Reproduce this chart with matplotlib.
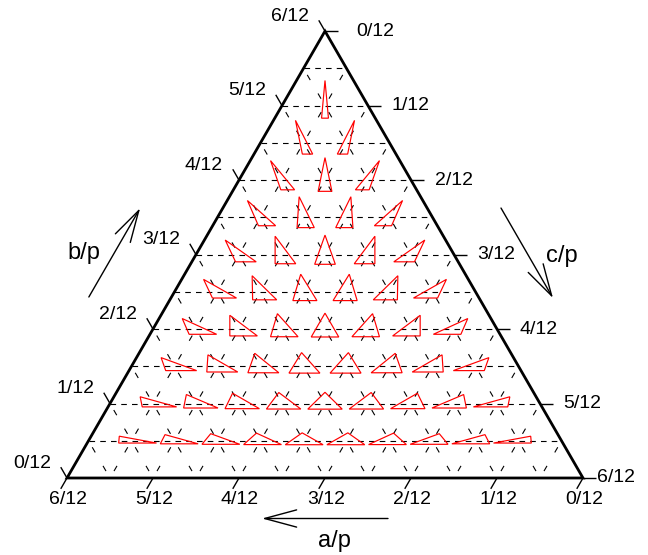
import numpy as np
import matplotlib
matplotlib.use("Agg")
import matplotlib.pyplot as plt
from matplotlib.patches import Polygon, FancyArrowPatch
from matplotlib.lines import Line2D

plt.rcParams['font.family'] = ['Liberation Sans', 'DejaVu Sans']
plt.rcParams['lines.scale_dashes'] = False

# Side lengths as fractions of the perimeter p, numerators over DENOM.
DENOM = 24
c_num = [2, 3, 4, 5, 6, 7, 8, 9, 10, 11]
a_num = [
    [11],
    [11, 10],
    [11, 10, 9],
    [11, 10, 9, 8],
    [11, 10, 9, 8, 7],
    [11, 10, 9, 8, 7, 6],
    [11, 10, 9, 8, 7, 6, 5],
    [11, 10, 9, 8, 7, 6, 5, 4],
    [11, 10, 9, 8, 7, 6, 5, 4, 3],
    [11, 10, 9, 8, 7, 6, 5, 4, 3, 2],
]
tick_num = [0, 1, 2, 3, 4, 5, 6]
tick_labels = ['0/12', '1/12', '2/12', '3/12', '4/12', '5/12', '6/12']
axis_titles = ['a/p', 'b/p', 'c/p']

SQ3 = np.sqrt(3.0)
SCALE = 0.08          # size of each glyph triangle relative to its (a, b, c)


def to_xy(a, b, c):
    """Ternary (a, b, c) with a+b+c=1 and all <= 1/2 -> plane."""
    return b + c / 2.0 - 0.25, (0.5 - c) * SQ3 / 2.0


W, H, DPI = 648, 555, 100
PX = 1032.0                 # pixels per plane unit
X0, Y0 = 67.0, 478.0        # pixel position of the lower-left corner
PT = 72.0 / DPI             # points per pixel

fig = plt.figure(figsize=(W / DPI, H / DPI), dpi=DPI)
ax = fig.add_axes([0, 0, 1, 1])
ax.set_xlim(-X0 / PX, (W - X0) / PX)
ax.set_ylim(-(H - Y0) / PX, Y0 / PX)
ax.axis('off')


def px(v):
    return v / PX


# ---- dashed grid -------------------------------------------------------
node = PX / DENOM            # node spacing in pixels
grid_lw = 0.8
h_dash = (0, (node / 4 * 0.52 * PT, node / 4 * 0.48 * PT))
s_on, s_gap0 = 6.0, 8.0
s_dash = ((node / 2 - s_gap0) * PT, (s_on * PT, (node / 2 - s_on) * PT))
for j in range(1, 12):
    v = j / DENOM
    # constant c (horizontal)
    p1 = to_xy(0.5, 0.5 - v, v)
    p2 = to_xy(0.5 - v, 0.5, v)
    ax.add_line(Line2D([p1[0], p2[0]], [p1[1], p2[1]], color='black',
                       lw=grid_lw, linestyle=h_dash, zorder=1))
    # constant a
    p1 = to_xy(v, 0.5 - v, 0.5)
    p2 = to_xy(v, 0.5, 0.5 - v)
    ax.add_line(Line2D([p1[0], p2[0]], [p1[1], p2[1]], color='black',
                       lw=grid_lw, linestyle=s_dash, zorder=1))
    # constant b
    p1 = to_xy(0.5 - v, v, 0.5)
    p2 = to_xy(0.5, v, 0.5 - v)
    ax.add_line(Line2D([p1[0], p2[0]], [p1[1], p2[1]], color='black',
                       lw=grid_lw, linestyle=s_dash, zorder=1))

# ---- outer triangle ------------------------------------------------------
corners = [to_xy(0.5, 0.0, 0.5), to_xy(0.0, 0.5, 0.5), to_xy(0.5, 0.5, 0.0)]
ax.add_patch(Polygon(corners, closed=True, fill=False, edgecolor='black',
                     lw=2.0, joinstyle='miter', zorder=3))

# ---- ticks and tick labels --------------------------------------------
TL = px(12.5)
tick_fs = 14
# horizontal gap between the right side and its labels (corners pushed apart)
right_gap = [31, 24, 24, 23, 23, 23, 14]
for k, lab, gap in zip(tick_num, tick_labels, right_gap):
    v = k / 12.0
    # a along the bottom (6/12 at left)
    x, y = to_xy(v, 0.5 - v, 0.5)
    ax.plot([x, x - TL * 0.5], [y, y - TL * SQ3 / 2], color='black', lw=1.0,
            zorder=3, solid_capstyle='butt')
    ax.text(x + px(1), y - px(22), lab, ha='center', va='center',
            fontsize=tick_fs)
    # b along the left side (0/12 at bottom)
    x, y = to_xy(0.5, v, 0.5 - v)
    ax.plot([x, x - TL * 0.5], [y, y + TL * SQ3 / 2], color='black', lw=1.0,
            zorder=3, solid_capstyle='butt')
    ax.text(x - px(16), y + px(15), lab, ha='right', va='center',
            fontsize=tick_fs)
    # c along the right side (0/12 at top)
    x, y = to_xy(0.5 - v, 0.5, v)
    ax.plot([x, x + TL], [y, y], color='black', lw=1.0, zorder=3,
            solid_capstyle='butt')
    ax.text(x + px(gap), y, lab, ha='left', va='center', fontsize=tick_fs)

# ---- glyph triangles ---------------------------------------------------
for cn, row in zip(c_num, a_num):
    for an in row:
        bn = DENOM - an - cn
        a, b, c = an / DENOM, bn / DENOM, cn / DENOM
        cx = (b * b + c * c - a * a) / (2 * c)
        cy = np.sqrt(max(b * b - cx * cx, 0.0))
        verts = np.array([[0.0, 0.0], [c, 0.0], [cx, cy]])
        verts -= verts.mean(axis=0)
        gx, gy = to_xy(a, b, c)
        verts = verts * SCALE + np.array([gx, gy])
        ax.add_patch(Polygon(verts, closed=True, fill=False, edgecolor='red',
                             lw=0.85, zorder=4))

# ---- axis titles with direction arrows ---------------------------------
title_fs = 17
arrow_style = '->,head_length=23,head_width=6.2'


def arrow(mid, direction, half_len):
    d = np.array(direction, dtype=float)
    d /= np.hypot(*d)
    m = np.array(mid)
    ax.add_patch(FancyArrowPatch(tuple(m - d * half_len), tuple(m + d * half_len),
                                 arrowstyle=arrow_style, mutation_scale=1,
                                 lw=1.0, color='black', shrinkA=0, shrinkB=0,
                                 zorder=3))


# a/p : below the base, pointing left
arrow((0.25, -px(40.5)), (-1, 0), px(63))
ax.text(px(334 - X0), -px(541 - Y0), axis_titles[0], ha='center', va='center',
        fontsize=title_fs)
# b/p : left of the left side, pointing up
lm = to_xy(0.5, 0.25, 0.25)
arrow((lm[0] - px(81.5), lm[1] + px(2)), (0.5, SQ3 / 2), px(51.3))
ax.text(px(84 - X0), px(Y0 - 253), axis_titles[1], ha='center', va='center',
        fontsize=title_fs)
# c/p : right of the right side, pointing down
rm = to_xy(0.25, 0.5, 0.25)
arrow((rm[0] + px(73), rm[1] + px(1.5)), (0.5, -SQ3 / 2), px(52))
ax.text(px(562 - X0), px(Y0 - 256), axis_titles[2], ha='center', va='center',
        fontsize=title_fs)

fig.savefig('out.png', dpi=DPI)
